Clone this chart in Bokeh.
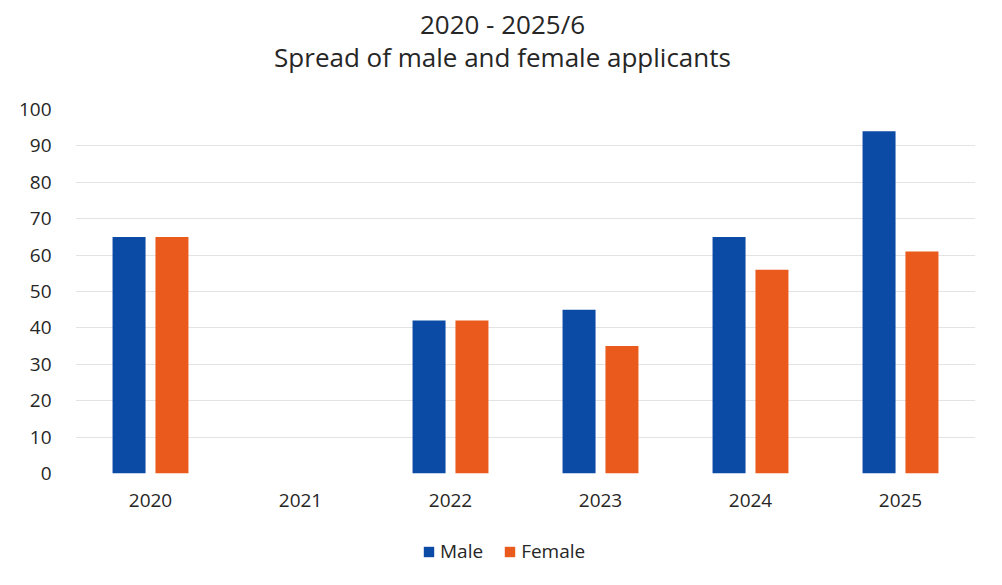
from bokeh.plotting import figure
from bokeh.models import ColumnDataSource, Range1d, FactorRange, Legend, LegendItem, Label
from bokeh.layouts import column
from bokeh.transform import dodge
from bokeh.embed import file_html
from bokeh.resources import INLINE

years = ["2020", "2021", "2022", "2023", "2024", "2025"]
male = [65, 0, 42, 45, 65, 94]
female = [65, 0, 42, 35, 56, 61]
y_ticks = [0, 10, 20, 30, 40, 50, 60, 70, 80, 90, 100]
title_lines = ["2020 - 2025/6", "Spread of male and female applicants"]
series_names = ["Male", "Female"]

FONT = "Open Sans"
TXT = "#262626"
C_MALE = "#0B4AA5"
C_FEMALE = "#EA5A1C"

src = ColumnDataSource(dict(year=years, male=male, female=female))

# ---- title strip ----
t = figure(width=994, height=85, output_backend="svg", toolbar_location=None,
           x_range=Range1d(0, 1), y_range=Range1d(0, 1),
           x_axis_location=None, y_axis_location=None,
           min_border_left=0, min_border_right=0, min_border_top=0, min_border_bottom=0)
t.outline_line_color = None
t.grid.grid_line_color = None
for txt, yy in zip(title_lines, [62, 29]):
    t.add_layout(Label(x=427, y=yy, x_units="screen", y_units="screen", text=txt,
                       text_align="center", text_baseline="alphabetic",
                       text_font=FONT, text_font_size="26px", text_color=TXT))

# ---- main chart ----
p = figure(frame_width=900, frame_height=364, output_backend="svg", toolbar_location=None,
           x_range=FactorRange(*years, range_padding=0), y_range=Range1d(0, 100),
           min_border_left=75, min_border_right=19, min_border_bottom=45, min_border_top=24)
p.outline_line_color = None

p.vbar(x=dodge("year", -0.143, range=p.x_range), top="male", width=0.22,
       source=src, fill_color=C_MALE, line_color=None)
p.vbar(x=dodge("year", 0.143, range=p.x_range), top="female", width=0.22,
       source=src, fill_color=C_FEMALE, line_color=None)

p.yaxis.ticker = y_ticks
p.yaxis.axis_line_color = None
p.yaxis.major_tick_line_color = None
p.yaxis.minor_tick_line_color = None
p.yaxis.major_label_text_font = FONT
p.yaxis.major_label_text_font_size = "19px"
p.yaxis.major_label_text_color = TXT
p.yaxis.major_label_standoff = 18

p.xaxis.axis_line_color = None
p.xaxis.major_tick_line_color = None
p.xaxis.major_label_text_font = FONT
p.xaxis.major_label_text_font_size = "19px"
p.xaxis.major_label_text_color = TXT
p.xaxis.major_label_standoff = 14

p.xgrid.grid_line_color = None
p.ygrid.grid_line_color = "#e3e3e3"
p.ygrid.grid_line_width = 1

# ---- legend strip (same series, drawn out of view; only the legend shows) ----
lg = figure(width=994, height=60, output_backend="svg", toolbar_location=None,
            x_range=FactorRange(*years), y_range=Range1d(1000, 1001),
            x_axis_location=None, y_axis_location=None,
            min_border_left=0, min_border_right=0, min_border_top=0, min_border_bottom=0)
lg.outline_line_color = None
lg.grid.grid_line_color = None
lm = lg.vbar(x="year", top="male", width=0.2, source=src, fill_color=C_MALE, line_color=None)
lf = lg.vbar(x="year", top="female", width=0.2, source=src, fill_color=C_FEMALE, line_color=None)
legend = Legend(items=[LegendItem(label=series_names[0], renderers=[lm]),
                       LegendItem(label=series_names[1], renderers=[lf])],
                orientation="horizontal", location=(347, 14),
                label_text_font=FONT, label_text_font_size="19px", label_text_color=TXT,
                glyph_width=13, glyph_height=13, spacing=20, label_standoff=5,
                border_line_color=None, background_fill_alpha=0, margin=0, padding=0)
lg.add_layout(legend, "center")

layout = column(t, p, lg, spacing=0)
open("out.html", "w").write(file_html(layout, INLINE))
